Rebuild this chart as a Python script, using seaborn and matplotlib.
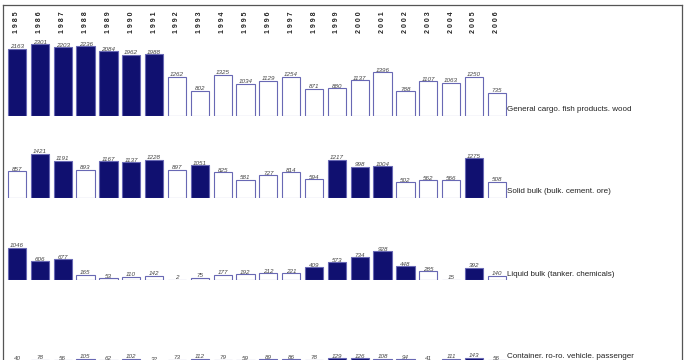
import matplotlib
matplotlib.use("Agg")
import matplotlib.pyplot as plt
import seaborn as sns
import pandas as pd

# data
years = [str(y) for y in range(1985, 2007)]
general_cargo = [2163, 2301, 2203, 2236, 2084, 1962, 1988, 1262, 802, 1325, 1034,
                 1129, 1254, 871, 880, 1137, 1396, 788, 1107, 1063, 1250, 735]
solid_bulk = [857, 1421, 1191, 893, 1167, 1137, 1228, 897, 1051, 825, 581,
              727, 814, 594, 1217, 998, 1004, 502, 562, 566, 1275, 508]
liquid_bulk = [1046, 606, 677, 165, 53, 110, 142, 2, 75, 177, 192,
               212, 221, 409, 573, 734, 928, 448, 285, 15, 392, 140]
container = [40, 78, 56, 105, 62, 102, 32, 73, 112, 79, 59,
             89, 86, 78, 129, 126, 108, 94, 41, 111, 143, 56]
series_names = ["General cargo. fish products. wood",
                "Solid bulk (bulk. cement. ore)",
                "Liquid bulk (tanker. chemicals)",
                "Container. ro-ro. vehicle. passenger"]

sns.set_style("white")
plt.rcParams["font.family"] = ["Liberation Sans", "DejaVu Sans"]

W, H = 686, 360
fig = plt.figure(figsize=(W / 100, H / 100), dpi=100)

# outer frame (bottom edge falls outside the picture)
frame = fig.add_axes([3 / W, -20 / H, 679 / W, 375 / H])
frame.set_xticks([])
frame.set_yticks([])
frame.patch.set_alpha(0)
for s in frame.spines.values():
    s.set_color("#555555")
    s.set_linewidth(0.9)

# pixel geometry: bar i centred at 17 + 22.85*i, 0.031 px per unit
x0, dx = 17.0, 22.85
px_per_unit = 0.031
panel_h = 80
baselines = [115.7, 197.6, 280.0, 362.0]
xlim = ((3 - x0) / dx, (682 - x0) / dx)
ymax = panel_h / px_per_unit
label_off = 2.0 / px_per_unit
name_off = 2.5 / px_per_unit

navy = "#000080"
edge = "#6868b4"

series = [general_cargo, solid_bulk, liquid_bulk, container]
for k, (vals, name, base) in enumerate(zip(series, series_names, baselines)):
    ax = fig.add_axes([3 / W, (H - base) / H, 679 / W, panel_h / H])
    ax.patch.set_alpha(0)
    mean = sum(vals) / len(vals)
    df = pd.DataFrame({"year": years, "value": vals,
                       "above": [v > mean for v in vals]})
    sns.barplot(data=df, x="year", y="value", hue="above", order=years,
                palette={True: navy, False: "white"}, edgecolor=edge,
                linewidth=0.8, width=0.8, dodge=False, errorbar=None,
                legend=False, ax=ax)
    for i, v in enumerate(vals):
        ax.text(i, v + label_off, str(v), ha="center", va="center",
                fontsize=4.5, style="italic", color="#444444")
    ax.text(len(years) - 1 + 0.44, name_off, name, ha="left", va="bottom",
            fontsize=5.8, color="#222222")
    ax.set_xlim(*xlim)
    ax.set_ylim(0, ymax)
    ax.set_xlabel("")
    ax.set_ylabel("")
    ax.set_yticks([])
    sns.despine(ax=ax, left=True, bottom=True)
    if k == 0:
        ax.xaxis.tick_top()
        ax.set_xticks(range(len(years)))
        ax.set_xticklabels([" ".join(y) for y in years], rotation=90,
                           fontsize=5, fontweight="bold", color="#222222")
        ax.tick_params(axis="x", length=0, pad=2)
    else:
        ax.set_xticks([])

fig.savefig("out.png", dpi=100)
